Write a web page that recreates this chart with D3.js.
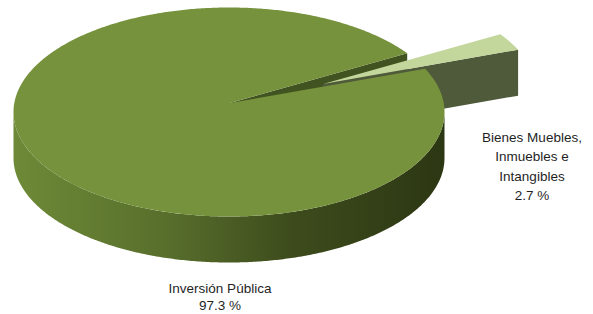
<!DOCTYPE html>
<html>
<head>
<meta charset="utf-8">
<script src="https://cdn.jsdelivr.net/npm/d3@7"></script>
<style>
  html, body { margin: 0; padding: 0; background: #fff; }
  svg { display: block; }
  text { font-family: "Liberation Sans", Arial, sans-serif; fill: #1f1f1f; }
</style>
</head>
<body>
<svg id="chart" width="593" height="314"></svg>
<script>
// datos
var categories = ['Inversión Pública', 'Bienes Muebles, Inmuebles e Intangibles'];
var values = [97.3, 2.7];
var labelLines = [
    ['Inversión Pública', '97.3 %'],
    ['Bienes Muebles,', 'Inmuebles e', 'Intangibles', '2.7 %']
];

(function () {
    var W = 593, H = 314;
    var cx = 229, cy = 112;      // centro de la elipse superior
    var rx = 215.5, ry = 104.5;
    var depth = 46;
    var apexDy = -9;             // la perspectiva sube el vértice
    var explode = [93, -19];     // desplazamiento de la porción pequeña

    var svg = d3.select('#chart');
    var defs = svg.append('defs');

    var grad = defs.append('linearGradient')
        .attr('id', 'sideGrad')
        .attr('gradientUnits', 'userSpaceOnUse')
        .attr('x1', cx - rx).attr('x2', cx + rx).attr('y1', 0).attr('y2', 0);
    grad.append('stop').attr('offset', 0).attr('stop-color', '#6e8a37');
    grad.append('stop').attr('offset', 0.35).attr('stop-color', '#586f2c');
    grad.append('stop').attr('offset', 0.65).attr('stop-color', '#3d4b1c');
    grad.append('stop').attr('offset', 1).attr('stop-color', '#2c3713');

    var arcs = d3.pie().sort(null)
        .startAngle(65.5 * Math.PI / 180)
        .endAngle(65.5 * Math.PI / 180 + 2 * Math.PI)(values);

    function pt(a, z, off) {
        off = off || [0, 0];
        return [cx + rx * Math.sin(a) + off[0], cy - ry * Math.cos(a) + z + off[1]];
    }
    function apex(z, off) {
        off = off || [0, 0];
        return [cx + 1 + off[0], cy + apexDy + z + off[1]];
    }
    function arcPts(a0, a1, z, off) {
        var n = Math.max(2, Math.ceil(Math.abs(a1 - a0) / 0.01));
        return d3.range(n + 1).map(function (i) { return pt(a0 + (a1 - a0) * i / n, z, off); });
    }

    var line = d3.line();
    function poly(p) { return line(p) + 'Z'; }

    var main = arcs[0], small = arcs[1];
    var off = explode;

    // lado frontal del sector principal
    var sideTop = arcPts(Math.PI / 2, 3 * Math.PI / 2, 0);
    var sideBot = arcPts(3 * Math.PI / 2, Math.PI / 2, depth);
    svg.append('path')
        .attr('d', poly(sideTop.concat(sideBot)))
        .attr('fill', 'url(#sideGrad)');

    // cara de corte del sector principal
    svg.append('path')
        .attr('d', poly([apex(0), pt(main.endAngle, 0), pt(main.endAngle, depth), apex(depth)]))
        .attr('fill', '#415320');

    // porción separada: cara de corte y superficie
    svg.append('path')
        .attr('d', poly([apex(0, off), pt(small.endAngle, 0, off), pt(small.endAngle, depth, off), apex(depth, off)]))
        .attr('fill', '#4f5a3b');
    svg.append('path')
        .attr('d', poly([apex(0, off)].concat(arcPts(small.startAngle, small.endAngle, 0, off))))
        .attr('fill', '#c3d69b');

    // superficie del sector principal
    svg.append('path')
        .attr('d', poly([apex(0)].concat(arcPts(main.startAngle, main.endAngle, 0))))
        .attr('fill', '#76923c');

    // etiquetas
    var labelPos = [
        { x: 220, y: 293, dy: 17 },
        { x: 532, y: 142, dy: 19.3 }
    ];
    labelLines.forEach(function (lines, i) {
        var p = labelPos[i];
        var t = svg.append('text')
            .attr('text-anchor', 'middle')
            .attr('font-size', 13.5);
        lines.forEach(function (s, j) {
            t.append('tspan').attr('x', p.x).attr('y', p.y + j * p.dy).text(s);
        });
    });
})();
</script>
</body>
</html>
